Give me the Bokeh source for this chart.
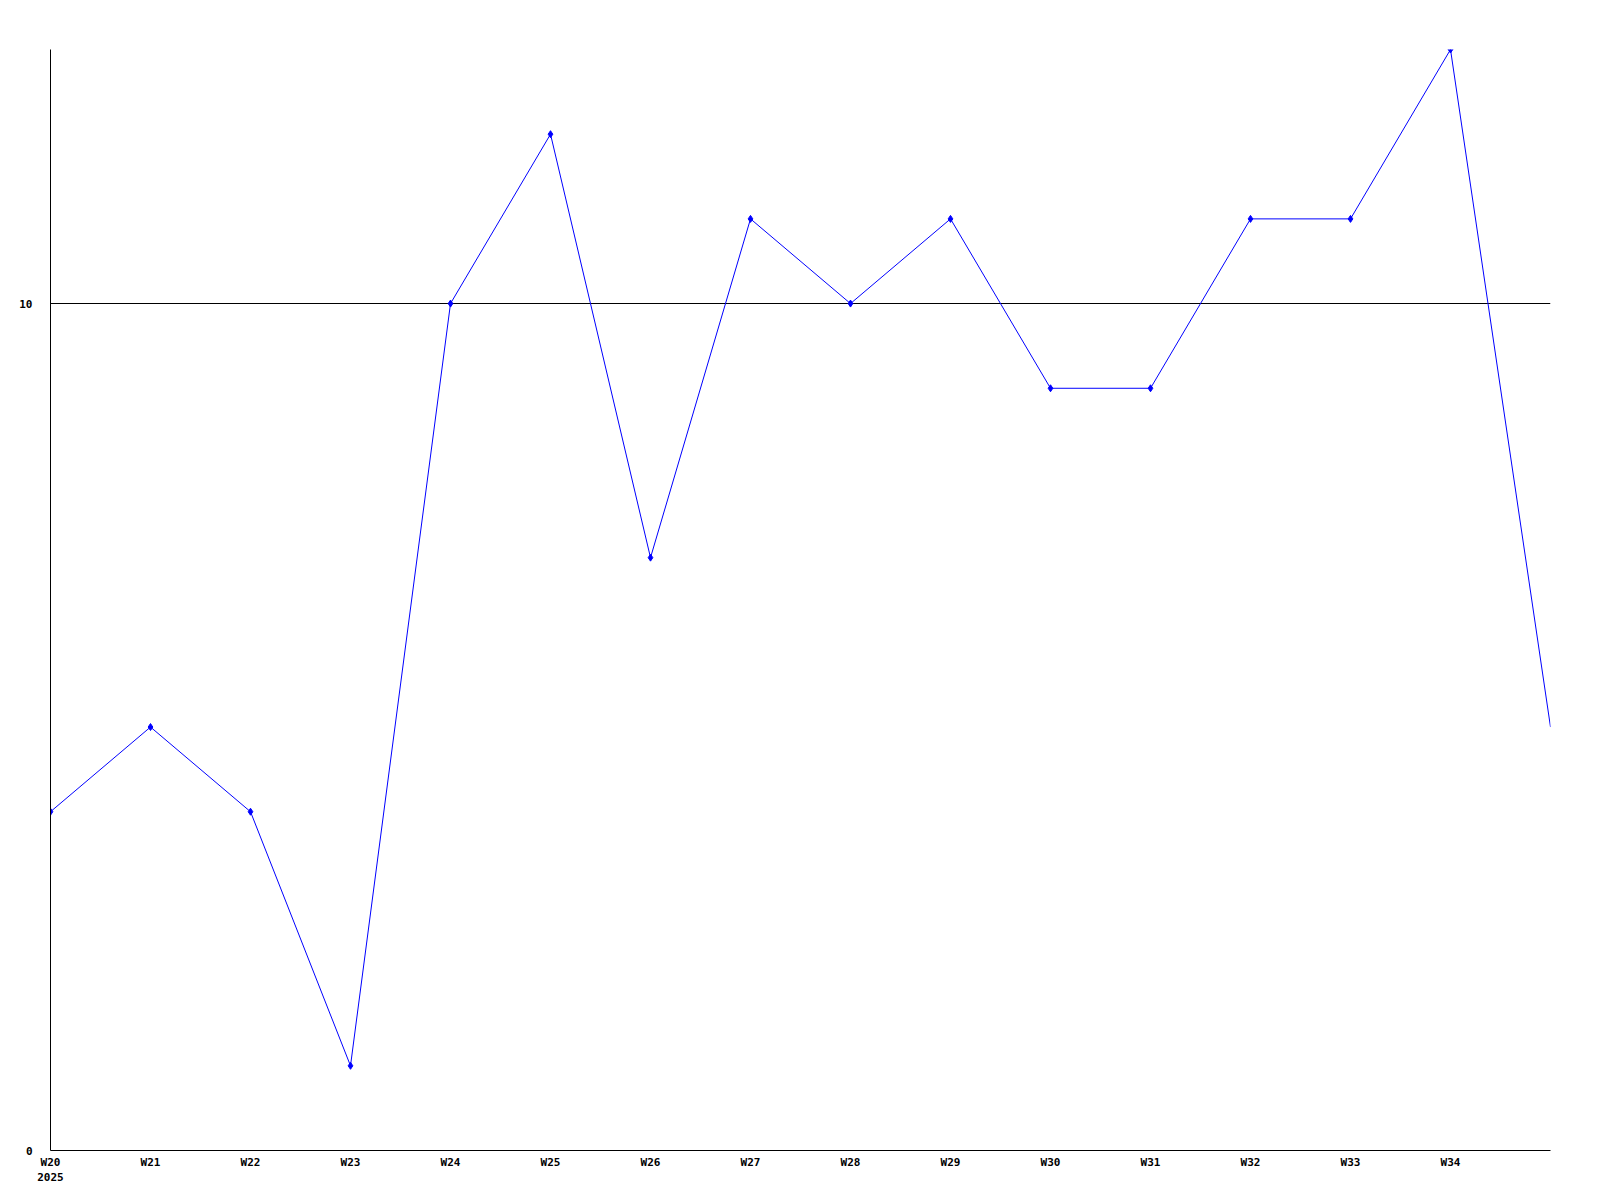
from bokeh.plotting import figure
from bokeh.models import FixedTicker, Range1d, ColumnDataSource
from bokeh.embed import file_html
from bokeh.resources import INLINE

weeks = [20, 21, 22, 23, 24, 25, 26, 27, 28, 29, 30, 31, 32, 33, 34, 35]
week_labels = ["W20\n2025", "W21", "W22", "W23", "W24", "W25", "W26", "W27",
               "W28", "W29", "W30", "W31", "W32", "W33", "W34"]
values = [4, 5, 4, 1, 10, 12, 7, 11, 10, 11, 9, 9, 11, 11, 13, 5]
y_ticks = [0, 10]

p = figure(width=1584, height=1187, output_backend="svg", toolbar_location=None,
           x_range=Range1d(20, 35), y_range=Range1d(0, 13),
           min_border_left=50, min_border_right=34, min_border_top=49, min_border_bottom=28)
p.outline_line_color = None
p.background_fill_color = "white"
p.border_fill_color = "white"

src = ColumnDataSource(dict(x=weeks, y=values))
p.line("x", "y", source=src, line_color="#0000ff", line_width=1)
p.scatter(weeks[:-1], values[:-1], marker="diamond", size=7, color="#0000ff")

font = "DejaVu Sans Mono"
p.xaxis.ticker = FixedTicker(ticks=weeks[:-1])
p.xaxis.major_label_overrides = {w: lab for w, lab in zip(weeks[:-1], week_labels)}
p.yaxis.ticker = FixedTicker(ticks=y_ticks)
for ax in (p.xaxis, p.yaxis):
    ax.axis_line_color = "black"
    ax.axis_line_width = 1
    ax.major_tick_line_color = None
    ax.minor_tick_line_color = None
    ax.major_tick_out = 0
    ax.major_tick_in = 0
    ax.major_label_text_font = font
    ax.major_label_text_font_style = "bold"
    ax.major_label_text_font_size = "11px"
    ax.major_label_text_color = "black"
p.xaxis.major_label_standoff = 5
p.yaxis.major_label_standoff = 18
p.yaxis.major_label_text_align = "left"

p.xgrid.grid_line_color = None
p.ygrid.ticker = FixedTicker(ticks=[10])
p.ygrid.grid_line_color = "black"
p.ygrid.grid_line_alpha = 1.0
p.ygrid.grid_line_width = 1

open("out.html", "w").write(file_html(p, INLINE))
